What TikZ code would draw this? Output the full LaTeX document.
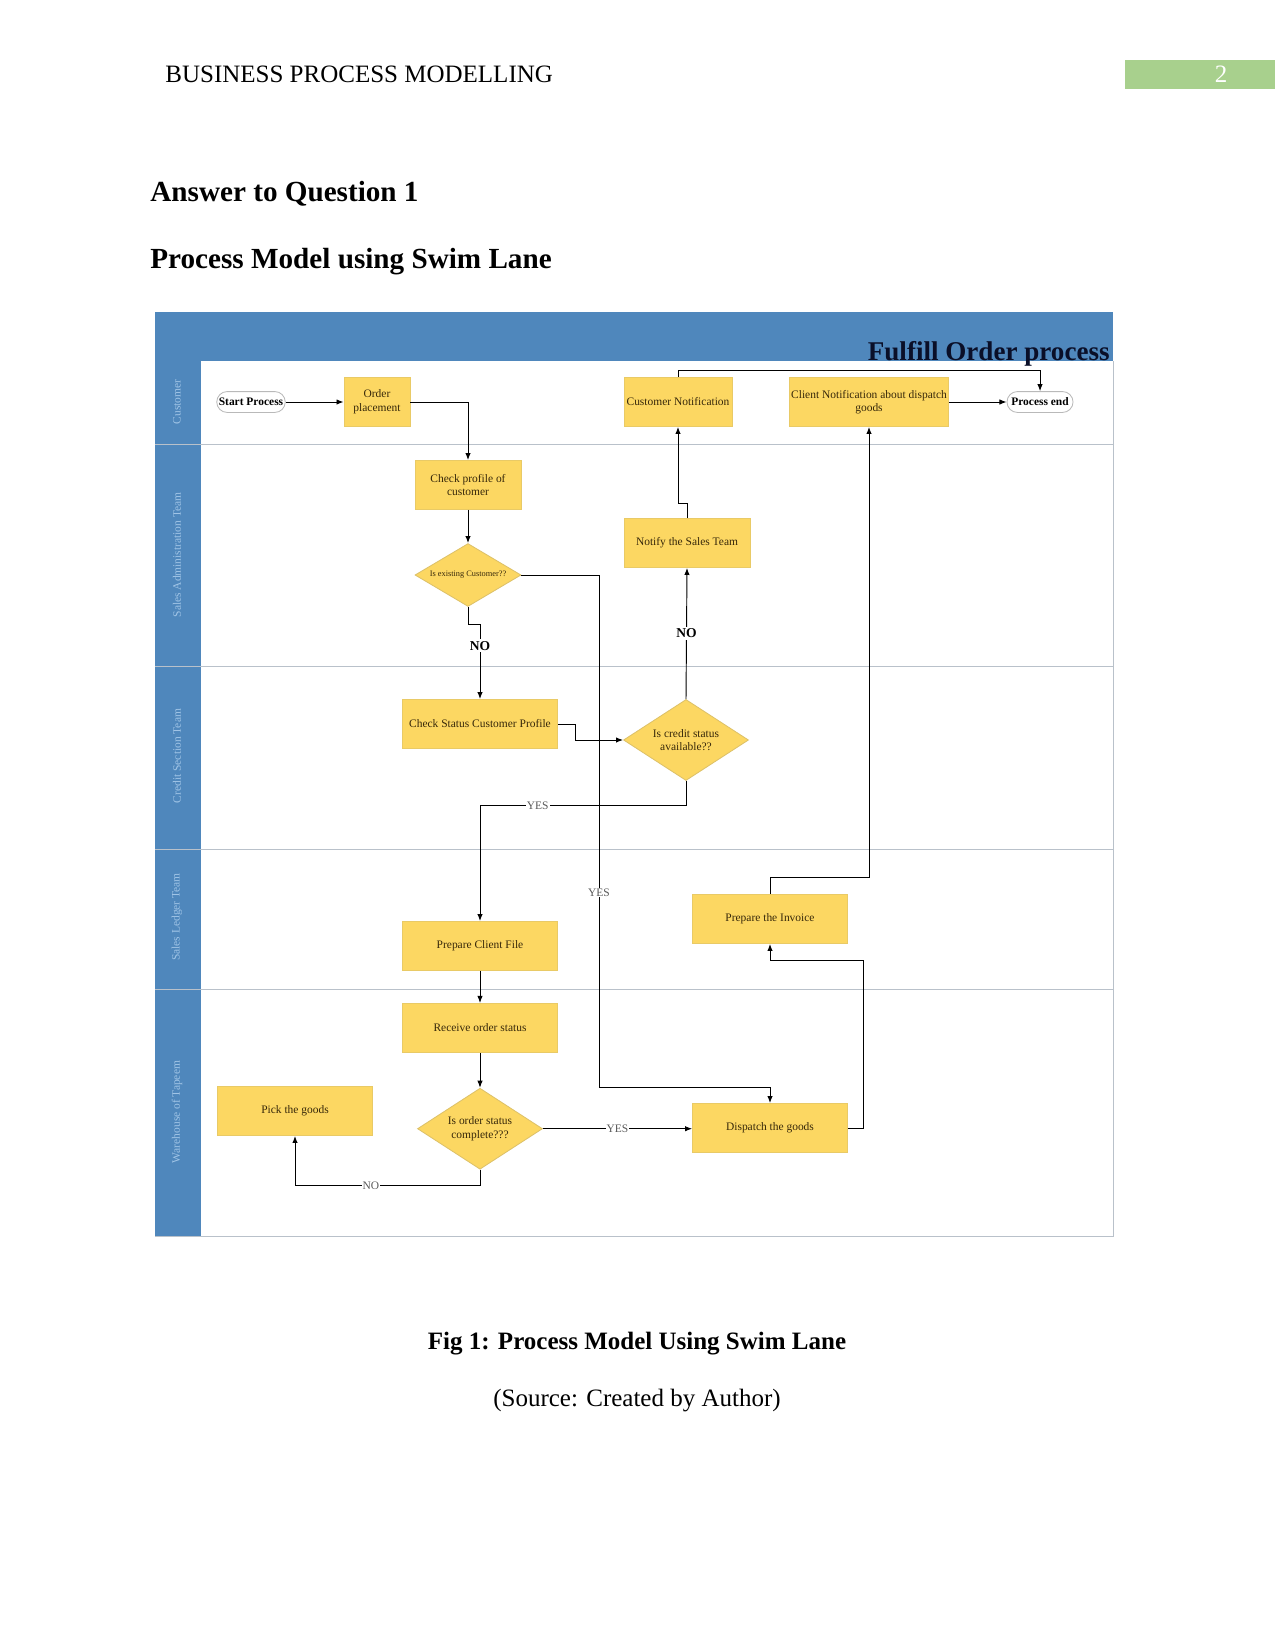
\documentclass[tikz,border=0pt]{standalone}
\usepackage{fontspec}
\setmainfont{Liberation Serif}
\usetikzlibrary{arrows.meta, positioning, shapes.geometric, calc}
\definecolor{flblue}{RGB}{79,135,188}
\definecolor{fllane}{RGB}{160,196,230}
\definecolor{flyellow}{RGB}{252,215,98}
\definecolor{flink}{RGB}{55,40,10}
\definecolor{flrule}{RGB}{185,193,202}
\definecolor{flgreen}{RGB}{168,208,141}
\definecolor{flnavy}{RGB}{10,15,40}
\tikzset{
    task/.style={draw=flyellow!85!gray, fill=flyellow, text=flink, align=center,
                 font=\fontsize{5.5}{6.5}\selectfont, minimum width=#1*0.48pt,
                 minimum height=23.5pt, inner sep=1pt},
    task/.default=155,
    decision/.style={diamond, draw=flyellow!75!gray, fill=flyellow, text=flink, align=center,
                     font=\fontsize{5.5}{6.5}\selectfont, aspect=1.5, inner sep=0pt,
                     minimum width=60pt, minimum height=38.9pt},
    terminal/.style={draw=gray!55, rounded corners=5pt, fill=white, font=\bfseries\fontsize{5.5}{6.5}\selectfont,
                     minimum width=31.7pt, minimum height=10pt, inner sep=1pt},
    lane/.style={rotate=90, text=fllane, font=\fontsize{5.5}{6.5}\selectfont, inner sep=0pt},
    arrow/.style={-{Latex[length=3.4pt, width=2.6pt]}, line width=0.45pt, black},
    nolbl/.style={font=\bfseries\fontsize{6.5}{7}\selectfont, fill=white, inner sep=1pt},
    yeslbl/.style={font=\fontsize{5.5}{6}\selectfont, text=gray!70!black, fill=white, inner sep=0.5pt},
    divider/.style={draw=flrule, line width=0.45pt},
}

\begin{document}
\begin{tikzpicture}[x=0.48pt, y=-0.48pt]
    \fill[white] (0,0) rectangle (1275,1651);
    \useasboundingbox (0,0) rectangle (1275,1651);
    % page header and headings
    \node[anchor=base west, inner sep=0, font=\fontsize{12}{14}\selectfont] (hdr) at (165,83) {BUSINESS PROCESS MODELLING};
    \fill[flgreen] (1125,60) rectangle (1275,89);
    \node[anchor=base, inner sep=0, text=white, font=\fontsize{12}{14}\selectfont] (pgno) at (1221,83) {2};
    \node[anchor=base west, inner sep=0, font=\bfseries\fontsize{14}{16}\selectfont] (ans) at (150,202) {Answer to Question 1};
    \node[anchor=base west, inner sep=0, font=\bfseries\fontsize{14}{16}\selectfont] (sub) at (150,268) {Process Model using Swim Lane};

    % swim lane frame
    \fill[flblue] (155,312) rectangle (1113,361);
    \fill[flblue] (155,312) rectangle (201,1236);
    \draw[divider] (1113,361) -- (1113,1236) -- (155,1236);
    \foreach \y in {444,666,849,989}
        \draw[divider] (155,\y) -- (1113,\y);
    \node[anchor=base east, inner sep=0, text=flnavy, font=\bfseries\fontsize{13}{15}\selectfont] (ttl) at (1110,360) {Fulfill Order process};
    \node[lane] (lcust) at (177,402) {Customer};
    \node[lane] (ladmin) at (177,555) {Sales Administration Team};
    \node[lane] (lcredit) at (177,756) {Credit Section Team};
    \node[lane] (lledger) at (177,917) {Sales Ledger Team};
    \node[lane] (lware) at (177,1112) {Warehouse of Tapeem};

    % process steps
    \node[terminal] (start) at (251,402) {Start Process};
    \node[task=66] (order) at (377,402) {Order\\placement};
    \node[task=108] (custnot) at (678,402) {Customer Notification};
    \node[task=154] (clientnot) at (869,402) {Client Notification about dispatch\\goods};
    \node[terminal] (pend) at (1040,402) {Process end};
    \node[task=106] (chkprof) at (468,485) {Check profile of\\customer};
    \node[decision, aspect=1.7, minimum width=50.9pt, minimum height=30.2pt, font=\fontsize{4}{5}\selectfont] (isexist) at (468,575) {Is existing Customer??};
    \node[task=126] (notify) at (687,543) {Notify the Sales Team};
    \node[task] (chkstat) at (480,724) {Check Status Customer Profile};
    \node[decision] (credit) at (686,740) {Is credit status\\available??};
    \node[task] (invoice) at (770,919) {Prepare the Invoice};
    \node[task] (pcf) at (480,946) {Prepare Client File};
    \node[task, below=15.4pt of pcf] (receive) {Receive order status};
    \node[decision, below=16.8pt of receive] (ordcomp) {Is order status\\complete???};
    \node[task] (pick) at (295,1111) {Pick the goods};
    \node[task] (dispatch) at (770,1128) {Dispatch the goods};
    \coordinate (yesdrop) at (599,1087);

    % connectors
    \draw[arrow] (start) -- (order);
    \draw[arrow] (order.east) -| (chkprof.north);
    \draw[arrow] (chkprof) -- (isexist);
    \draw[arrow] (isexist.south) -- ++(0,18) -| node[nolbl, pos=0.64] {NO} (chkstat.north);
    \draw[arrow] (isexist.east) -| node[yeslbl, pos=0.81] {YES} (yesdrop) -| (dispatch.north);
    \draw[arrow] (chkstat.east) -- ++(18,0) |- (credit.west);
    \draw[arrow] (credit.north) -- node[nolbl] {NO} (notify.south);
    \draw[arrow] (credit.south) -- ++(0,25) -| node[yeslbl, pos=0.36] {YES} (pcf.north);
    \draw[arrow] (notify.north) -- ++(0,-15) -| (custnot.south);
    \draw[arrow] (custnot.north) -- ++(0,-7) -| (pend.north);
    \draw[arrow] (clientnot) -- (pend);
    \draw[arrow] (pcf) -- (receive);
    \draw[arrow] (receive) -- (ordcomp);
    \draw[arrow] (ordcomp.east) -- node[yeslbl] {YES} (ordcomp.east -| dispatch.west);
    \draw[arrow] (ordcomp.south) -- ++(0,16) -| node[yeslbl, pos=0.295] {NO} (pick.south);
    \draw[arrow] (dispatch.east) -- ++(16,0) |- ($(invoice.south)+(0,17)$) -- (invoice.south);
    \draw[arrow] (invoice.north) -- ++(0,-17) -| (clientnot.south);

    % caption
    \node[anchor=base, inner sep=0, font=\bfseries\fontsize{12}{14}\selectfont] (cap) at (637,1349) {Fig 1: Process Model Using Swim Lane};
    \node[anchor=base, inner sep=0, font=\fontsize{12}{14}\selectfont] (src) at (637,1406) {(Source: Created by Author)};
\end{tikzpicture}
\end{document}
